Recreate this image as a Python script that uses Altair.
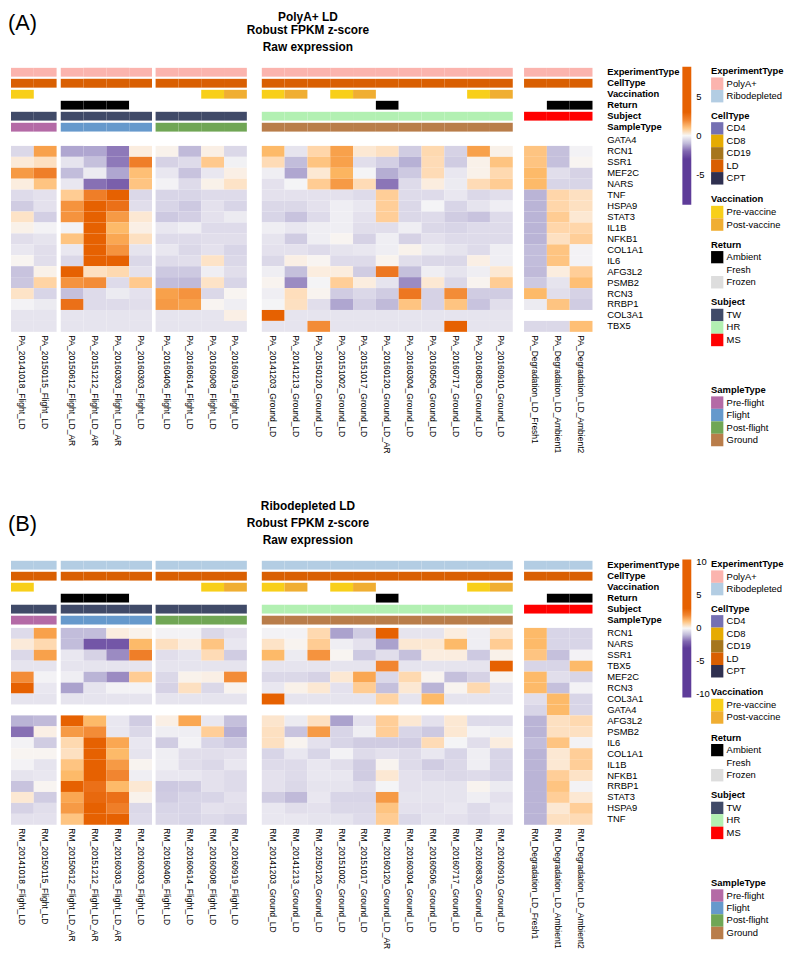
import altair as alt
import pandas as pd

NA = None

# ---------------- data ----------------
titles_A = ["PolyA+ LD", "Robust FPKM z-score", "Raw expression"]
titles_B = ["Ribodepleted LD", "Robust FPKM z-score", "Raw expression"]

sample_names = [
    "20141018_Flight_LD", "20150115_Flight_LD",
    "20150612_Flight_LD_AR", "20151212_Flight_LD_AR", "20160303_Flight_LD_AR", "20160303_Flight_LD",
    "20160406_Flight_LD", "20160614_Flight_LD", "20160908_Flight_LD", "20160919_Flight_LD",
    "20141203_Ground_LD", "20141213_Ground_LD", "20150120_Ground_LD", "20151002_Ground_LD",
    "20151017_Ground_LD", "20160120_Ground_LD_AR", "20160304_Ground_LD", "20160506_Ground_LD",
    "20160717_Ground_LD", "20160830_Ground_LD", "20160910_Ground_LD",
    "Degradation_LD_Fresh1", "Degradation_LD_Ambient1", "Degradation_LD_Ambient2",
]
group_sizes = [2, 4, 4, 11, 3]

ann_names = ["ExperimentType", "CellType", "Vaccination", "Return", "Subject", "SampleType"]
cell_type = ["LD"] * 24
vaccination = ["Pre-vaccine", NA, NA, NA, NA, NA, NA, NA, "Pre-vaccine", "Post-vaccine",
               "Pre-vaccine", "Post-vaccine", NA, "Pre-vaccine", "Post-vaccine", NA, NA, NA, NA,
               "Pre-vaccine", "Post-vaccine", NA, NA, NA]
return_status = ["Fresh", "Fresh", "Ambient", "Ambient", "Ambient", "Fresh", "Fresh", "Fresh", "Fresh", "Fresh",
                 "Fresh", "Fresh", "Fresh", "Fresh", "Fresh", "Ambient", "Fresh", "Fresh", "Fresh", "Fresh", "Fresh",
                 "Fresh", "Ambient", "Ambient"]
subject = ["TW"] * 10 + ["HR"] * 11 + ["MS"] * 3
sample_type = ["Pre-flight"] * 2 + ["Flight"] * 4 + ["Post-flight"] * 4 + ["Ground"] * 11 + [NA] * 3

leg_ExperimentType = ["PolyA+", "Ribodepleted"]
leg_CellType = ["CD4", "CD8", "CD19", "LD", "CPT"]
leg_Vaccination = ["Pre-vaccine", "Post-vaccine"]
leg_Return = ["Ambient", "Fresh", "Frozen"]
leg_Subject = ["TW", "HR", "MS"]
leg_SampleType = ["Pre-flight", "Flight", "Post-flight", "Ground"]

ticks_A = [-5, 0, 5]
ticks_B = [-10, -5, 0, 5, 10]
range_A = [-8.85, 8.85]
range_B = [-10.5, 10.4]

genes_A = ["GATA4", "RCN1", "SSR1", "MEF2C", "NARS", "TNF", "HSPA9", "STAT3", "IL1B", "NFKB1",
           "COL1A1", "IL6", "AFG3L2", "PSMB2", "RCN3", "RRBP1", "COL3A1", "TBX5"]
genes_B = ["RCN1", "NARS", "SSR1", "TBX5", "MEF2C", "RCN3", "COL3A1", "GATA4", "AFG3L2", "PSMB2",
           "IL6", "COL1A1", "IL1B", "NFKB1", "RRBP1", "STAT3", "HSPA9", "TNF"]

# Panel A (PolyA+) values, 24 samples each
A_GATA4 = [NA, NA, NA, NA, NA, NA, NA, NA, NA, NA, NA, NA, NA, NA, NA, NA, NA, NA, NA, NA, NA, NA, NA, NA]
A_RCN1 = [-0.5, 1.6, -1.3, -1.3, -1.8, 0.2, 0.1, -1.0, 0.15, -0.5,
          1.2, -0.3, 0.65, 1.6, 0.3, 0.45, -0.7, 0.6, -0.6, 1.6, 0.12, 1.0, -0.9, -0.08]
A_SSR1 = [0.25, 0.45, -0.3, -0.9, -1.8, 2.1, -0.6, -0.45, 0.9, -0.1,
          0.55, -0.95, 1.0, 1.6, -0.4, -0.65, -1.15, 0.55, -0.7, 0.12, 1.0, 1.0, -0.9, 0.05]
A_MEF2C = [1.7, 2.1, -0.95, -0.2, -1.3, 1.1, -0.25, -0.85, -0.25, 0.15,
           -0.15, -1.3, 0.3, 1.3, -0.05, -1.2, -0.75, 0.55, -0.25, 0.12, 0.6, 1.2, -0.4, -0.6]
A_NARS = [0.2, 1.0, -0.25, -1.9, -2.1, 1.0, -0.08, -0.45, 0.12, 0.4,
          -0.35, -0.05, 0.85, 1.7, 0.55, -1.85, -0.45, 0.2, -0.2, 0.55, 0.85, 1.2, -0.55, -0.55]
A_TNF = [-0.45, -0.35, 0.85, 2.1, 2.6, -0.5, -0.55, -0.55, -0.45, -0.45,
         -0.35, -0.35, -0.35, -0.35, -0.45, 0.8, -0.45, -0.45, -0.25, -0.5, -0.4, -1.1, 0.65, 0.45]
A_HSPA9 = [-0.7, -0.35, 1.8, 2.6, 2.3, -0.4, -0.55, -0.75, -0.35, -0.55,
           -0.5, -0.5, -0.35, -0.15, -0.25, 0.8, -0.5, -0.05, -0.55, -0.3, -0.15, -1.1, 0.65, 0.45]
A_STAT3 = [0.4, -0.65, 1.8, 2.6, 1.7, 0.3, -0.75, -0.65, -0.35, -0.2,
           -0.55, -0.85, -0.45, -0.15, -0.35, 0.8, -0.5, -0.45, -0.7, -0.85, -0.45, -1.1, 0.85, 0.3]
A_IL1B = [0.12, -0.08, -0.08, 2.6, 1.2, 0.15, -0.25, -0.15, -0.45, -0.45,
          -0.15, -0.25, -0.15, -0.15, -0.4, -0.4, -0.15, -0.5, -0.55, -0.45, -0.45, -1.1, 0.65, 0.65]
A_NFKB1 = [-0.4, -0.3, 1.0, 2.6, 1.5, 0.45, -0.45, -0.45, -0.4, -0.4,
           -0.3, -0.7, -0.15, 0.05, -0.6, -0.15, -0.6, -0.35, -0.45, -0.45, -0.45, -1.1, 0.45, 0.8]
A_COL1A1 = [-0.25, -0.4, -0.25, 2.6, 1.8, -0.3, -0.25, -0.5, -0.35, -0.55,
            -0.35, -0.35, -0.45, -0.3, -0.25, -0.15, 0.1, -0.2, -0.3, -0.45, -0.15, -0.95, 1.0, -0.08]
A_IL6 = [0.05, -0.4, -0.5, 2.6, 2.6, -0.5, -0.45, -0.4, 0.4, -0.5,
         -0.5, 0.15, 0.05, -0.45, -0.45, 0.08, -0.4, -0.5, -0.5, 0.15, -0.15, -0.95, 1.0, -0.08]
A_AFG3L2 = [-0.85, 0.12, 2.6, 0.45, 0.6, -0.35, -0.75, -0.75, -0.15, -0.4,
            -0.15, -0.9, 0.2, 0.2, -0.7, 2.2, -0.9, -0.15, -0.3, -0.15, 0.3, -1.0, 0.2, 0.8]
A_PSMB2 = [-0.8, 0.7, 1.8, 1.9, -0.45, 0.9, -0.95, -1.0, 0.4, -0.55,
           0.07, -1.6, -0.05, 0.8, 0.2, -0.3, -1.6, 0.3, -0.5, 0.07, 0.85, -0.75, -0.3, 1.1]
A_RCN3 = [0.4, -0.55, -0.9, -0.45, -0.2, -0.35, 1.6, 1.8, -0.5, 0.05,
          -0.15, 0.5, 0.07, -0.7, -0.5, -0.7, 2.2, -0.6, 1.9, -0.7, -0.7, 1.2, -0.4, -0.6]
A_RRBP1 = [-0.08, -0.2, 2.3, -0.45, -0.45, -0.4, 1.7, 1.6, 0.05, -0.15,
           -0.05, 0.45, -0.4, -1.3, -0.65, -1.0, 1.0, -0.6, 1.0, -0.85, -0.4, -0.2, 1.0, -0.7]
A_COL3A1 = [-0.3, -0.3, -0.3, -0.3, -0.3, -0.3, -0.3, -0.3, -0.3, 0.15,
            2.6, -0.3, -0.3, -0.3, -0.3, -0.3, -0.3, -0.3, -0.3, -0.3, -0.3, NA, NA, NA]
A_TBX5 = [-0.3, -0.3, -0.3, -0.3, -0.3, -0.3, -0.3, -0.3, -0.3, -0.3,
          -0.3, -0.3, 1.9, -0.3, -0.3, -0.3, -0.3, -0.3, 2.6, -0.3, -0.3, -0.5, -0.5, 1.1]

# Panel B (Ribodepleted) values
B_RCN1 = [-0.45, 1.6, -0.95, -0.95, 0.2, 0.1, -0.08, -0.08, -0.5, -0.35,
          -0.08, -0.08, 0.6, -1.35, -0.7, 2.6, -0.3, -0.3, 0.2, -0.15, 0.4, 1.2, -0.55, -0.55]
B_NARS = [0.25, 0.6, -0.95, -2.2, -2.2, 1.2, 0.45, 0.2, 1.0, -0.25,
          0.4, 0.07, 0.85, -0.15, -0.35, -1.35, 0.3, 0.3, 1.2, -0.15, 0.85, 1.2, -0.55, -0.55]
B_SSR1 = [-0.5, 1.6, -0.25, -0.6, -1.6, 2.1, -0.4, -0.3, 0.55, -0.7,
          1.2, -0.2, 1.8, 0.05, -0.75, -0.4, -0.9, 0.2, 0.2, -0.75, 0.12, 1.0, -0.9, -0.08]
B_TBX5 = [-0.3, -0.3, -0.3, -0.3, -0.3, -0.3, -0.3, -0.3, -0.3, -0.3,
          -0.3, -0.3, -0.3, -0.3, -0.3, 2.0, -0.3, -0.3, -0.3, -0.3, 2.6, -0.55, -0.55, 1.2]
B_MEF2C = [1.9, -0.08, -0.15, -1.1, -1.6, 0.85, -0.5, 0.1, 0.15, 1.9,
           -0.5, -0.5, -0.6, 0.3, 1.5, -0.5, 0.6, 0.07, -0.9, -0.6, 0.07, 1.2, -0.4, -0.55]
B_RCN3 = [2.6, -0.25, -1.35, -0.3, -0.08, -0.08, -0.6, 0.45, -0.5, 0.07,
          -0.25, 0.12, 0.3, -0.35, 0.85, -0.9, 0.3, -1.1, 0.07, 0.6, -0.3, 1.2, -0.9, -0.08]
B_COL3A1 = [-0.3, -0.3, -0.3, -0.3, -0.3, -0.3, -0.3, -0.3, -0.3, -0.3,
            2.6, -0.3, -0.3, -0.3, -0.3, 0.7, -0.3, 1.2, -0.3, -0.3, -0.3, -0.4, 1.2, -0.55]
B_GATA4 = [NA, NA, NA, NA, NA, NA, NA, NA, NA, NA,
           NA, NA, NA, NA, NA, NA, NA, NA, NA, NA, NA, -0.55, 1.2, -0.55]
B_AFG3L2 = [-1.1, -1.0, 2.6, 1.2, -0.25, -0.7, 0.15, 1.5, -0.25, -0.9,
            0.35, -0.2, 0.45, -1.35, -0.35, 0.8, 0.3, -0.35, 0.3, -0.45, -0.45, -1.1, 0.45, 0.6]
B_PSMB2 = [-1.9, 0.15, 1.7, 1.9, -0.25, -0.5, -0.15, -0.15, 0.8, -1.2,
           0.45, -0.85, 1.7, -0.55, -0.15, 0.8, -0.55, -0.75, 0.3, -0.08, -0.15, -1.1, 0.45, 0.45]
B_IL6 = [-0.08, -0.7, 0.6, 2.6, 1.5, -0.25, -0.7, -0.08, -0.55, -0.75,
         0.45, 0.07, -0.35, -0.55, -0.7, -0.7, -0.7, 0.55, -0.05, -0.4, 0.2, -0.95, 1.0, -0.08]
B_COL1A1 = [0.05, 0.05, 0.45, 2.6, 1.2, -0.3, -0.15, -0.4, -0.4, -0.35,
            -0.55, -0.25, -0.55, -0.08, -0.45, -0.35, -0.45, -0.25, -0.55, -0.15, -0.55, -1.1, 0.3, 0.8]
B_IL1B = [-0.08, -0.3, 1.0, 2.6, 1.7, 0.07, -0.15, -0.4, -0.5, -0.25,
          -0.45, -0.45, -0.25, -0.4, -0.7, 0.07, -0.45, -0.7, -0.5, -0.15, -0.55, -1.1, 0.3, 0.8]
B_NFKB1 = [-0.3, -0.25, 1.2, 2.6, 2.0, -0.15, -0.25, -0.25, -0.35, -0.45,
           -0.35, -0.45, -0.25, -0.25, -0.7, 0.3, -0.35, -0.45, -0.5, -0.45, -0.55, -1.1, 0.8, 0.4]
B_RRBP1 = [-0.85, 0.05, 2.6, 2.3, 1.2, 0.3, -0.75, -0.7, -0.35, -0.45,
           -0.35, -0.5, -0.3, -0.3, -0.45, -0.05, -0.35, -0.3, -0.3, 0.07, -0.2, -1.1, 1.0, -0.08]
B_STAT3 = [0.3, -0.7, 1.5, 2.4, 2.3, 0.1, -0.7, -0.55, -0.55, -0.35,
           -0.7, -1.0, -0.25, -0.55, -0.55, 1.7, -0.3, -0.3, -0.3, -0.15, -0.35, -1.1, 0.8, 0.3]
B_HSPA9 = [-0.6, -0.4, 1.7, 2.6, 2.1, -0.5, -0.55, -0.55, -0.35, -0.4,
           -0.25, -0.4, -0.35, -0.5, -0.5, 1.0, -0.35, -0.35, -0.25, -0.45, -0.25, -1.1, 0.3, 0.8]
B_TNF = [-0.35, -0.35, 1.0, 2.6, 2.6, -0.45, -0.5, -0.55, -0.45, -0.55,
         -0.25, -0.25, -0.3, -0.3, -0.45, 0.85, -0.5, -0.3, -0.35, -0.45, -0.35, -1.1, 0.45, 0.55]

vals_A = [A_GATA4, A_RCN1, A_SSR1, A_MEF2C, A_NARS, A_TNF, A_HSPA9, A_STAT3, A_IL1B, A_NFKB1,
          A_COL1A1, A_IL6, A_AFG3L2, A_PSMB2, A_RCN3, A_RRBP1, A_COL3A1, A_TBX5]
vals_B = [B_RCN1, B_NARS, B_SSR1, B_TBX5, B_MEF2C, B_RCN3, B_COL3A1, B_GATA4, B_AFG3L2, B_PSMB2,
          B_IL6, B_COL1A1, B_IL1B, B_NFKB1, B_RRBP1, B_STAT3, B_HSPA9, B_TNF]

# ---------------- styles / layout ----------------
CAT_COLORS = {
    "PolyA+": "#FBB4AE", "Ribodepleted": "#B3CDE3",
    "CD4": "#7570B3", "CD8": "#E6AB02", "CD19": "#A6761D", "LD": "#D95F02", "CPT": "#2F3050",
    "Pre-vaccine": "#F8CF1A", "Post-vaccine": "#F0AE32",
    "Ambient": "#000000", "Fresh": "#FFFFFF", "Frozen": "#DDDDDD",
    "TW": "#404A68", "HR": "#B2F0B2", "MS": "#FF0000",
    "Pre-flight": "#B46AA6", "Flight": "#6699CC", "Post-flight": "#70A655", "Ground": "#B97D4A",
}
HEAT_COLORS = ["#5e3c99", "#5e3c99", "#b2abd2", "#f7f7f7", "#fdb863", "#e66101", "#e66101"]
HEAT_BREAKS = [-2.5, -1.25, 0, 1.25, 2.5]

FONT = "Liberation Sans"
W, H = 787, 947          # keep the page within the 970px window (no rescaling)
CW = 23.05
GAPS = [4.2, 3.6, 15.1, 11.4]
X0 = 3.0
ROW_H = 11.05
HEAT_TOP = 123.4
ANN_TOP = 55.6
ANN_PITCH = 11.1
ANN_H = 8.9
OFF_B = 498
LABEL_X = 605.3
TITLE_X = 303
LEG_X = 710.3
SW_W = 12.4
SW_H = 12.6
LEG_LABEL_X = 726
LEG_TITLE_Y = [58.8, 104, 188.5, 234.2, 292.5, 381]
CBAR_X = 681.3
CBAR_Y = 54.4
CBAR_LEN = 139.4
COL_LABEL_GAP = 3.5

# column left edges from group sizes and gaps
col_left = []
_x = X0
for g, n in enumerate(group_sizes):
    if g > 0:
        _x += GAPS[g - 1]
    for _ in range(n):
        col_left.append(_x)
        _x += CW

leg_groups = [leg_ExperimentType, leg_CellType, leg_Vaccination, leg_Return, leg_Subject, leg_SampleType]
all_cats = [c for grp in leg_groups for c in grp]

xs = alt.Scale(domain=[0, W], nice=False, zero=False)
ys = alt.Scale(domain=[0, H], nice=False, zero=False, reverse=True)
X = alt.X("x:Q", scale=xs, axis=None)
Y = alt.Y("y:Q", scale=ys, axis=None)
fill_scale = alt.Scale(domain=all_cats, range=[CAT_COLORS[c] for c in all_cats])

heat_rows, ann_rows, txt = [], [], {k: [] for k in
    ["tag", "title", "annlab", "gene", "col", "legtitle", "leglab"]}
sw_rows = []

panels = [
    ("A", 0, "PA_", "PolyA+", titles_A, genes_A, vals_A, [4.5, 17.2, 34.8], 10),
    ("B", OFF_B, "RM_", "Ribodepleted", titles_B, genes_B, vals_B, [0.3, 17.2, 34.8], 19),
]
for tag, off, prefix, exp, titles, genes, vals, title_y, tag_y in panels:
    for gi, row in enumerate(vals):
        for ci, v in enumerate(row):
            if v is None:
                continue
            heat_rows.append(dict(panel=tag, x=col_left[ci], x2=col_left[ci] + CW,
                                  y=off + HEAT_TOP + gi * ROW_H, y2=off + HEAT_TOP + (gi + 1) * ROW_H,
                                  value=v))
    ann_lists = [[exp] * 24, cell_type, vaccination, return_status, subject, sample_type]
    for ai, lst in enumerate(ann_lists):
        top = off + ANN_TOP + ai * ANN_PITCH
        for ci, c in enumerate(lst):
            if c is None:
                continue
            ann_rows.append(dict(x=col_left[ci], x2=col_left[ci] + CW, y=top, y2=top + ANN_H, cat=c))
        txt["annlab"].append(dict(x=LABEL_X, y=top + ANN_H / 2, text=ann_names[ai]))
    for gi, gname in enumerate(genes):
        txt["gene"].append(dict(x=LABEL_X, y=off + HEAT_TOP + (gi + 0.5) * ROW_H, text=gname))
    bottom = off + HEAT_TOP + len(genes) * ROW_H
    for ci, s in enumerate(sample_names):
        txt["col"].append(dict(x=col_left[ci] + CW / 2, y=bottom + COL_LABEL_GAP, text=prefix + s))
    for li, t in enumerate(titles):
        txt["title"].append(dict(x=TITLE_X, y=off + title_y[li], text=t))
    txt["tag"].append(dict(x=0, y=off + tag_y, text="(" + tag + ")"))
    for k, grp in enumerate(leg_groups):
        ty = off + LEG_TITLE_Y[k]
        txt["legtitle"].append(dict(x=LEG_X, y=ty, text=ann_names[k]))
        for j, c in enumerate(grp):
            top = ty + 6.5 + j * SW_H
            sw_rows.append(dict(x=LEG_X, x2=LEG_X + SW_W, y=top, y2=top + SW_H, cat=c))
            txt["leglab"].append(dict(x=LEG_LABEL_X, y=top + SW_H / 2, text=c))

heat_df = pd.DataFrame(heat_rows)


def heat_layer(tag, rng, ticks, off):
    dom = [rng[0]] + HEAT_BREAKS + [rng[1]]
    sc = alt.Scale(type="linear", domain=dom, range=HEAT_COLORS, interpolate="lab", clamp=True,
                   nice=False, zero=False)
    return alt.Chart(heat_df[heat_df.panel == tag]).mark_rect().encode(
        x=X, x2="x2:Q", y=Y, y2="y2:Q",
        color=alt.Color("value:Q", scale=sc, legend=alt.Legend(
            type="gradient", orient="none", legendX=CBAR_X, legendY=CBAR_Y + off, direction="vertical",
            gradientLength=CBAR_LEN, gradientThickness=9, gradientStrokeWidth=0,
            values=ticks, labelFontSize=9.5, labelFont=FONT, labelColor="black",
            labelOffset=5, title=None, padding=0, labelExpr="'' + datum.value")),
    )


ann_layer = alt.Chart(pd.DataFrame(ann_rows)).mark_rect().encode(
    x=X, x2="x2:Q", y=Y, y2="y2:Q",
    fill=alt.Fill("cat:N", scale=fill_scale, legend=None),
)
sw_layer = alt.Chart(pd.DataFrame(sw_rows)).mark_rect().encode(
    x=X, x2="x2:Q", y=Y, y2="y2:Q",
    fill=alt.Fill("cat:N", scale=fill_scale, legend=None),
)


def text_layer(key, **kw):
    return alt.Chart(pd.DataFrame(txt[key])).mark_text(font=FONT, color="black", baseline="middle", **kw).encode(
        x=X, y=Y, text="text:N")


layers = [
    heat_layer("A", range_A, ticks_A, 0),
    heat_layer("B", range_B, ticks_B, OFF_B),
    ann_layer,
    sw_layer,
    text_layer("tag", align="left", fontSize=22),
    text_layer("title", align="center", fontSize=12, fontWeight="bold"),
    text_layer("annlab", align="left", fontSize=9.5, fontWeight="bold"),
    text_layer("gene", align="left", fontSize=9.5),
    text_layer("col", align="left", fontSize=8.6, angle=90),
    text_layer("legtitle", align="left", fontSize=9.5, fontWeight="bold"),
    text_layer("leglab", align="left", fontSize=9.5),
]

chart = alt.layer(*layers).resolve_scale(color="independent").properties(
    width=W, height=H, padding=0, autosize=alt.AutoSizeParams(type="none"),
).configure_view(stroke=None)

chart.save("out.html", embed_options={"renderer": "svg", "actions": False})
